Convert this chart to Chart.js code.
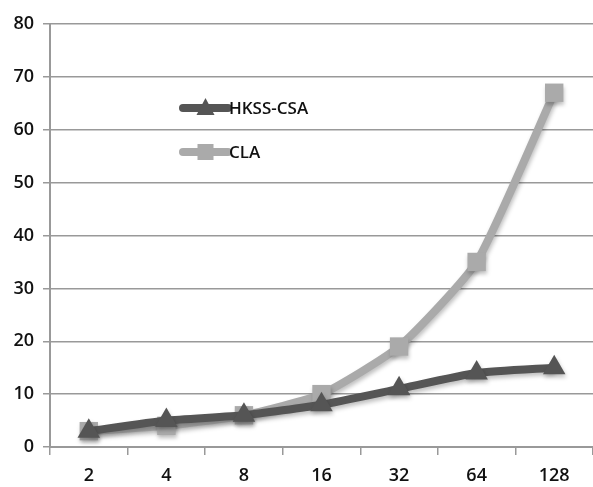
<!DOCTYPE html>
<html>
<head>
<meta charset="utf-8">
<script src="https://cdn.jsdelivr.net/npm/chart.js@4"></script>
<style>
html,body{margin:0;padding:0;background:#fff;}
#wrap{width:593px;height:487px;position:relative;}
</style>
</head>
<body>
<div id="wrap"><canvas id="c" width="593" height="487"></canvas></div>
<script>
const categories = ['2','4','8','16','32','64','128'];
const hkssCsa = [3, 5, 6, 8, 11, 14, 15];
const cla = [3, 4, 6, 10, 19, 35, 67];
const yTicks = [0,10,20,30,40,50,60,70,80];

const FONT = "'Open Sans',sans-serif";

const shadowPlugin = {
  id: 'shadow',
  beforeDatasetsDraw(chart){
    const ctx = chart.ctx;
    ctx.save();
    ctx.shadowColor = 'rgba(0,0,0,0.25)';
    ctx.shadowBlur = 4;
    ctx.shadowOffsetX = 1;
    ctx.shadowOffsetY = 3;
  },
  afterDatasetsDraw(chart){ chart.ctx.restore(); }
};

const legendPlugin = {
  id: 'inlineLegend',
  afterDraw(chart){
    const ctx = chart.ctx;
    const entries = [
      {ds: chart.data.datasets[0], y: 108},
      {ds: chart.data.datasets[1], y: 152}
    ];
    ctx.save();
    entries.forEach(e => {
      const x1 = 183, x2 = 228, xm = (x1+x2)/2;
      ctx.strokeStyle = e.ds.borderColor;
      ctx.lineWidth = 8;
      ctx.lineCap = 'round';
      ctx.beginPath(); ctx.moveTo(x1, e.y); ctx.lineTo(x2, e.y); ctx.stroke();
      ctx.fillStyle = e.ds.borderColor;
      if (e.ds.pointStyle === 'triangle') {
        ctx.beginPath();
        ctx.moveTo(xm, e.y - 10); ctx.lineTo(xm + 9, e.y + 7); ctx.lineTo(xm - 9, e.y + 7);
        ctx.closePath(); ctx.fill();
      } else {
        ctx.fillRect(xm - 8, e.y - 8, 16, 16);
      }
      ctx.fillStyle = '#111';
      ctx.font = "600 17px " + FONT;
      ctx.textBaseline = 'middle';
      ctx.textAlign = 'left';
      ctx.fillText(e.ds.label, x2 + 1, e.y + 1);
    });
    ctx.restore();
  }
};

new Chart(document.getElementById('c'), {
  type: 'line',
  data: {
    labels: categories,
    datasets: [
      {
        label: 'HKSS-CSA',
        data: hkssCsa,
        borderColor: '#555555',
        backgroundColor: '#555555',
        borderWidth: 8,
        pointStyle: 'triangle',
        pointRadius: 13,
        pointBorderWidth: 0,
        tension: 0.18
      },
      {
        label: 'CLA',
        data: cla,
        borderColor: '#aaaaaa',
        backgroundColor: '#aaaaaa',
        borderWidth: 8,
        pointStyle: 'rect',
        pointRadius: 13,
        pointBorderWidth: 0,
        tension: 0.18
      }
    ]
  },
  options: {
    responsive: false,
    animation: false,
    devicePixelRatio: 1,
    layout: { autoPadding: false, padding: { top: 24, right: 0, left: 0, bottom: 0 } },
    plugins: { legend: { display: false }, tooltip: { enabled: false } },
    scales: {
      x: {
        offset: true,
        grid: { display: true, drawOnChartArea: false, drawTicks: true, tickLength: 8, color: '#999', lineWidth: 1.5, offset: true },
        border: { display: true, color: '#999', width: 2 },
        ticks: { color: '#111', font: { family: FONT, size: 18, weight: '600' }, padding: 10, maxRotation: 0 },
        afterFit(s){ s.height = 40; s.paddingLeft = 0; s.paddingRight = 0; }
      },
      y: {
        min: 0, max: 80,
        afterBuildTicks(s){ s.ticks = yTicks.map(v => ({value: v})); },
        grid: { color: '#999', lineWidth: 1.5, tickLength: 7, drawTicks: true },
        border: { display: true, color: '#999', width: 2 },
        ticks: { color: '#111', font: { family: FONT, size: 18, weight: '600' }, padding: 9 },
        afterFit(s){ s.width = 50; }
      }
    }
  },
  plugins: [shadowPlugin, legendPlugin]
});
</script>
</body>
</html>
